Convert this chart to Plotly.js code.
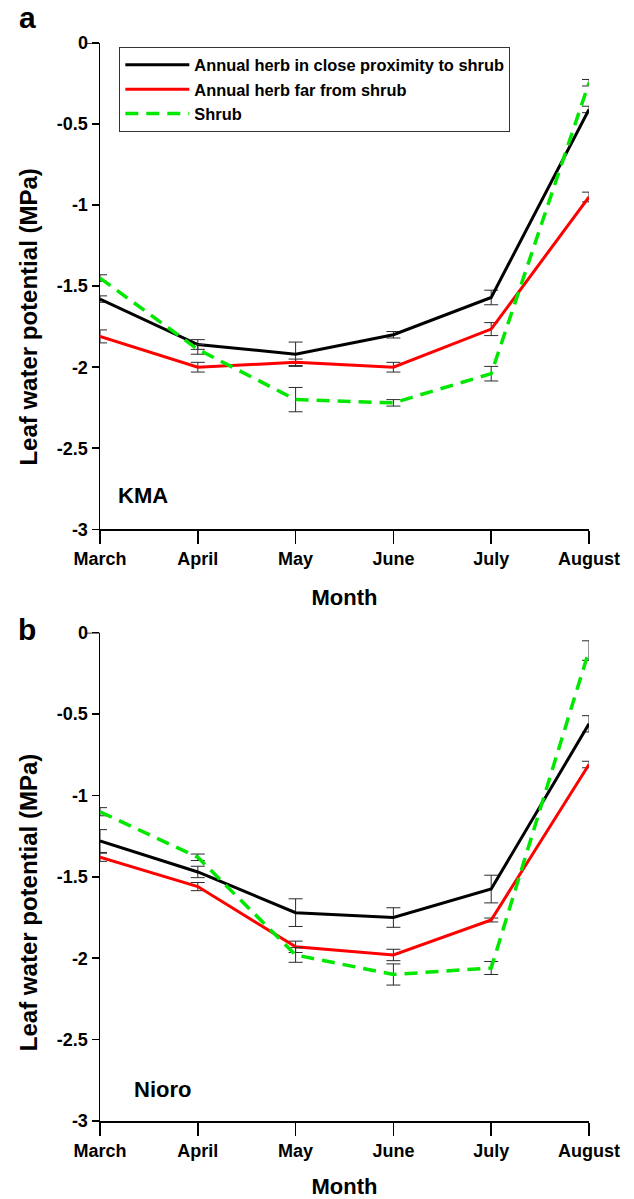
<!DOCTYPE html>
<html>
<head>
<meta charset="utf-8">
<script src="https://cdn.plot.ly/plotly-3.0.1.min.js"></script>
<style>html,body{margin:0;padding:0;background:#fff;}#chart{width:634px;height:1199px;}</style>
</head>
<body>
<div id="chart"></div>
<script>
// Categories
const months = ["March", "April", "May", "June", "July", "August"];
const seriesNames = ["Annual herb in close proximity to shrub", "Annual herb far from shrub", "Shrub"];

// Panel a: KMA
const kmaClose = [-1.58, -1.86, -1.92, -1.80, -1.57, -0.41];
const kmaCloseErr = [0.02, 0.03, 0.075, 0.02, 0.045, 0.02];
const kmaFar = [-1.81, -2.00, -1.97, -2.00, -1.765, -0.95];
const kmaFarErr = [0.04, 0.03, 0.02, 0.03, 0.04, 0.03];
const kmaShrub = [-1.45, -1.89, -2.20, -2.22, -2.04, -0.245];
const kmaShrubErr = [0.02, 0.03, 0.075, 0.02, 0.045, 0.02];

// Panel b: Nioro
const nioroClose = [-1.28, -1.47, -1.72, -1.75, -1.575, -0.56];
const nioroCloseErr = [0.07, 0.035, 0.085, 0.06, 0.085, 0.05];
const nioroFar = [-1.38, -1.56, -1.93, -1.98, -1.765, -0.81];
const nioroFarErr = [0.025, 0.025, 0.035, 0.035, 0.012, 0.02];
const nioroShrub = [-1.10, -1.38, -1.98, -2.10, -2.06, -0.11];
const nioroShrubErr = [0.025, 0.02, 0.045, 0.065, 0.04, 0.06];

// Tick labels
const yTickVals = [0, -0.5, -1, -1.5, -2, -2.5, -3];
const yTickText = ["0", "-0.5", "-1", "-1.5", "-2", "-2.5", "-3"];

const styles = [
  {color: "#000000", width: 3, dash: "solid"},
  {color: "#ff0000", width: 3, dash: "solid"},
  {color: "#00e800", width: 3.5, dash: "13px,8px"}
];

function mk(y, err, idx, xa, ya, show) {
  return {
    type: "scatter", mode: "lines", x: months, y: y,
    name: seriesNames[idx], showlegend: show, cliponaxis: false,
    xaxis: xa, yaxis: ya,
    line: {color: styles[idx].color, width: styles[idx].width, dash: styles[idx].dash},
    error_y: {type: "data", array: err, visible: true, color: "#2a2a2a", thickness: 1, width: 7}
  };
}

const data = [
  mk(kmaClose, kmaCloseErr, 0, "x", "y", true),
  mk(kmaFar, kmaFarErr, 1, "x", "y", true),
  mk(kmaShrub, kmaShrubErr, 2, "x", "y", true),
  mk(nioroClose, nioroCloseErr, 0, "x2", "y2", false),
  mk(nioroFar, nioroFarErr, 1, "x2", "y2", false),
  mk(nioroShrub, nioroShrubErr, 2, "x2", "y2", false)
];

const fontFam = "Liberation Sans, Arial, sans-serif";
function xAx(anchor) {
  return {
    anchor: anchor, type: "category", range: [0, 5], domain: [0, 1],
    showgrid: false, zeroline: false, showline: true, linecolor: "#000", linewidth: 1.5,
    ticks: "outside", ticklen: 13, tickwidth: 1.5, tickcolor: "#000",
    tickfont: {size: 18, family: fontFam, weight: "bold", color: "#000"},
    title: {text: "Month", font: {size: 22, family: fontFam, weight: "bold", color: "#000"}, standoff: 21},
    automargin: false
  };
}
function yAx(anchor, dom) {
  return {
    anchor: anchor, domain: dom, range: [-3, 0],
    showgrid: false, zeroline: false, showline: true, linecolor: "#000", linewidth: 1.5,
    ticks: "outside", ticklen: 7, tickwidth: 1.5, tickcolor: "#000",
    tickvals: yTickVals, ticktext: yTickText,
    tickfont: {size: 18, family: fontFam, weight: "bold", color: "#000"},
    automargin: false
  };
}

const annFont = (s) => ({size: s, family: fontFam, weight: "bold", color: "#000"});
const longTick = (ya) => ({type: "line", xref: "paper", yref: ya, x0: -13 / 489, x1: 0, y0: 0, y1: 0, line: {color: "#000", width: 1.5}});
const layout = {
  width: 634, height: 1199,
  margin: {l: 100, r: 45, t: 43, b: 78},
  paper_bgcolor: "#fff", plot_bgcolor: "#fff",
  font: {family: fontFam, weight: "bold", color: "#000"},
  xaxis: xAx("y"),
  yaxis: yAx("x", [0.5489, 1]),
  xaxis2: xAx("y2"),
  yaxis2: yAx("x2", [0, 0.453]),
  showlegend: true,
  legend: {
    x: 0.0395, y: 0.9966, xanchor: "left", yanchor: "top",
    bgcolor: "#fff", bordercolor: "#333", borderwidth: 1,
    font: {size: 16.4, family: fontFam, weight: "bold", color: "#000"},
    itemwidth: 64, tracegroupgap: 0
  },
  shapes: [longTick("y"), longTick("y2")],
  annotations: [
    {text: "a", xref: "paper", yref: "paper", x: -0.149, y: 1.0232, xanchor: "center", yanchor: "middle", showarrow: false, font: annFont(30)},
    {text: "b", xref: "paper", yref: "paper", x: -0.149, y: 0.4564, xanchor: "center", yanchor: "middle", showarrow: false, font: annFont(30)},
    {text: "Leaf water potential (MPa)", xref: "paper", yref: "paper", x: -0.147, y: 0.7454, xanchor: "center", yanchor: "middle", textangle: -90, showarrow: false, font: annFont(24)},
    {text: "Leaf water potential (MPa)", xref: "paper", yref: "paper", x: -0.147, y: 0.2022, xanchor: "center", yanchor: "middle", textangle: -90, showarrow: false, font: annFont(24)},
    {text: "KMA", xref: "x domain", yref: "y domain", x: 0.032, y: 0.069, xanchor: "left", yanchor: "middle", showarrow: false, font: annFont(22)},
    {text: "Nioro", xref: "x2 domain", yref: "y2 domain", x: 0.066, y: 0.064, xanchor: "left", yanchor: "middle", showarrow: false, font: annFont(22)}
  ]
};

Plotly.newPlot("chart", data, layout, {displayModeBar: false, staticPlot: true});
</script>
</body>
</html>
